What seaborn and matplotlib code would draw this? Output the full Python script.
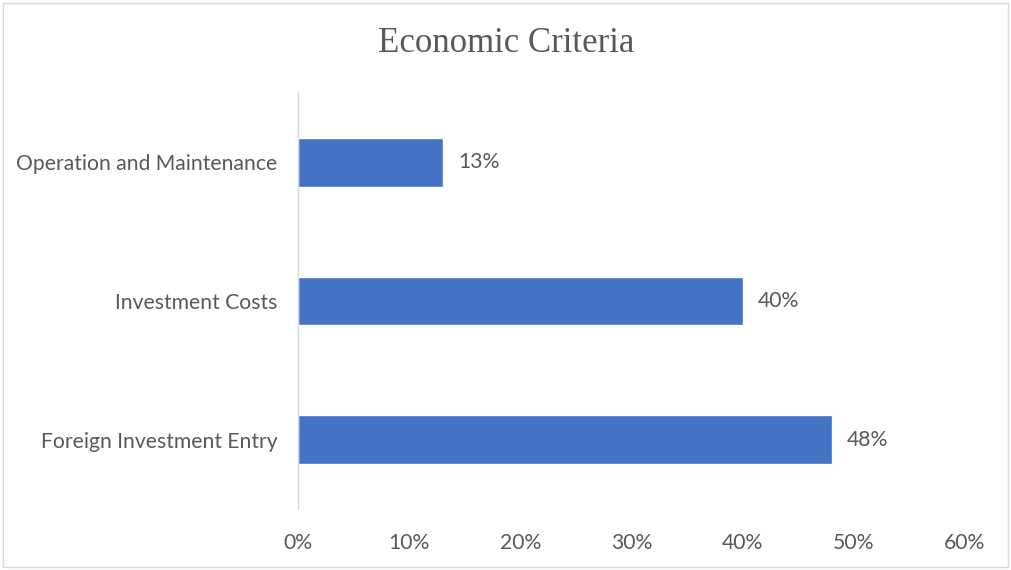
import matplotlib
matplotlib.use("Agg")
import matplotlib.pyplot as plt
import seaborn as sns
import pandas as pd
from matplotlib.patches import Rectangle
from matplotlib.ticker import PercentFormatter

categories = ["Operation and Maintenance", "Investment Costs", "Foreign Investment Entry"]
shares = [0.13, 0.40, 0.48]
tick_values = [0.0, 0.1, 0.2, 0.3, 0.4, 0.5, 0.6]

df = pd.DataFrame({"criterion": categories, "share": shares})

sns.set_theme(style="white")
plt.rcParams["font.family"] = ["Lato", "DejaVu Sans"]

text_gray = "#595959"
bar_blue = "#4472C4"
label_size = 15.2

fig = plt.figure(figsize=(10.12, 5.70), dpi=100)
ax = fig.add_axes([298 / 1012, 1 - 509 / 570, (965 - 298) / 1012, (509 - 93) / 570])

sns.barplot(data=df, x="share", y="criterion", order=categories, color=bar_blue,
            width=0.35, saturation=1, ax=ax)

ax.set_xlim(0, 0.6)
ax.set_xticks(tick_values)
ax.xaxis.set_major_formatter(PercentFormatter(1.0, decimals=0))
ax.set_xlabel("")
ax.set_ylabel("")
ax.tick_params(axis="x", length=0, labelsize=label_size, colors=text_gray, pad=17)
ax.tick_params(axis="y", length=0, labelsize=label_size, colors=text_gray, pad=15)

for side in ["top", "right", "bottom"]:
    ax.spines[side].set_visible(False)
ax.spines["left"].set_color("#D9D9D9")
ax.spines["left"].set_linewidth(1.0)

for container in ax.containers:
    ax.bar_label(container, labels=[f"{v * 100:.0f}%" for v in shares],
                 padding=11, fontsize=label_size, color=text_gray)

fig.text(0.5, 1 - 44 / 570, "Economic Criteria", ha="center", va="center",
         fontsize=25, color=text_gray, family=["Liberation Serif", "DejaVu Serif"])

fig.patches.append(Rectangle((3 / 1012, 3 / 570), 1005 / 1012, 564 / 570,
                             transform=fig.transFigure, fill=False,
                             edgecolor="#D9D9D9", linewidth=1.0))

fig.savefig("out.png", dpi=100, facecolor="white")
